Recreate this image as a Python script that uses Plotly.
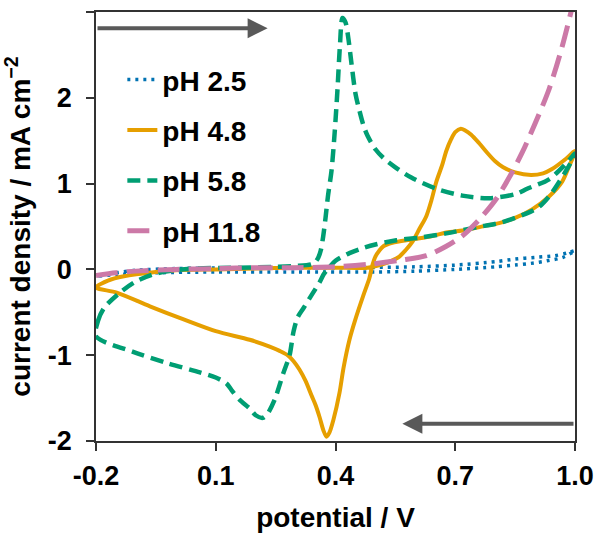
import plotly.graph_objects as go

# ---------------- data ----------------
# pH 2.5 (forward then backward scan)
ph25_x = [-0.2, -0.15, -0.1, 0.0, 0.2, 0.4, 0.6, 0.7, 0.8, 0.85, 0.9, 0.95, 0.98, 1.0,
          0.97, 0.93, 0.89, 0.85, 0.8, 0.7, 0.6, 0.5, 0.3, 0.1, -0.05, -0.15, -0.2]
ph25_y = [-0.08, -0.04, -0.01, 0.01, 0.02, 0.02, 0.03, 0.05, 0.09, 0.12, 0.14, 0.16, 0.19, 0.22,
          0.14, 0.10, 0.07, 0.05, 0.03, 0.0, -0.02, -0.03, -0.03, -0.03, -0.04, -0.06, -0.08]

# pH 4.8
ph48_x = [-0.2, -0.17, -0.13, -0.05, 0.0, 0.1, 0.2, 0.3, 0.4, 0.48, 0.5175, 0.54, 0.56, 0.575,
          0.5925, 0.61, 0.6275, 0.64, 0.6525, 0.6675, 0.6775, 0.69, 0.70, 0.714, 0.725, 0.74,
          0.76, 0.78, 0.80, 0.82, 0.85, 0.89, 0.92, 0.9425, 0.9775, 1.0,
          0.985, 0.9675, 0.935, 0.8925, 0.85, 0.81, 0.7775, 0.7275, 0.6775, 0.6425, 0.5925,
          0.5425, 0.52, 0.51, 0.50, 0.4925, 0.485, 0.47, 0.45, 0.435, 0.42, 0.41, 0.395, 0.385,
          0.3775, 0.37, 0.36, 0.35, 0.34, 0.325, 0.31, 0.295, 0.28, 0.26, 0.235, 0.185, 0.1, 0.018,
          -0.065, -0.148, -0.2]
ph48_y = [-0.21, -0.13, -0.08, -0.03, -0.01, 0.0, 0.01, 0.02, 0.02, 0.02, 0.06, 0.10, 0.15, 0.22,
          0.32, 0.47, 0.62, 0.80, 1.02, 1.22, 1.38, 1.52, 1.60, 1.64, 1.62, 1.57,
          1.47, 1.36, 1.26, 1.19, 1.13, 1.10, 1.12, 1.17, 1.29, 1.38,
          1.20, 1.02, 0.85, 0.70, 0.60, 0.54, 0.51, 0.46, 0.43, 0.39, 0.35,
          0.31, 0.27, 0.22, 0.15, 0.05, -0.10, -0.30, -0.58, -0.82, -1.15, -1.44, -1.75, -1.90,
          -1.95, -1.88, -1.72, -1.58, -1.47, -1.30, -1.17, -1.07, -1.00, -0.95, -0.90, -0.82,
          -0.72, -0.58, -0.43, -0.27, -0.21]

# pH 5.8
ph58_x = [-0.2, -0.195, -0.18, -0.14, -0.1, -0.05, 0.0, 0.05, 0.15, 0.25, 0.3, 0.34, 0.35, 0.357,
          0.363, 0.369, 0.375, 0.381, 0.39, 0.398, 0.405, 0.411, 0.4175, 0.425, 0.432, 0.44, 0.45,
          0.46, 0.47, 0.48, 0.50, 0.52, 0.55, 0.59, 0.6525, 0.7175, 0.785, 0.8525, 0.88, 0.935,
          0.975, 1.0,
          0.99, 0.975, 0.94, 0.91, 0.8775, 0.8175, 0.7525, 0.6775, 0.61, 0.5525, 0.5, 0.47, 0.435,
          0.40, 0.38, 0.37, 0.36, 0.34, 0.32, 0.305, 0.295, 0.285, 0.27, 0.2475, 0.23, 0.218, 0.2,
          0.185, 0.16, 0.14, 0.127, 0.1, 0.06, -0.023, -0.107, -0.2]
ph58_y = [-0.78, -0.60, -0.45, -0.27, -0.14, -0.05, -0.01, 0.01, 0.02, 0.03, 0.04, 0.06, 0.09, 0.14,
          0.22, 0.38, 0.60, 0.85, 1.15, 1.60, 2.10, 2.60, 2.93, 2.88, 2.70, 2.40, 2.05,
          1.85, 1.68, 1.56, 1.40, 1.30, 1.19, 1.07, 0.94, 0.86, 0.83, 0.88, 0.94, 1.05,
          1.22, 1.35,
          1.25, 1.13, 0.88, 0.73, 0.65, 0.55, 0.49, 0.42, 0.37, 0.34, 0.29, 0.25, 0.19,
          0.10, 0.0, -0.06, -0.15, -0.30, -0.45, -0.56, -0.72, -1.00, -1.20, -1.52, -1.68, -1.73, -1.70,
          -1.62, -1.52, -1.41, -1.33, -1.26, -1.20, -1.09, -0.96, -0.78]

# pH 11.8
ph118_x = [-0.2, -0.15, -0.1, 0.0, 0.1, 0.2, 0.3, 0.4, 0.485, 0.5675, 0.6275, 0.6775, 0.7175,
           0.76, 0.8025, 0.835, 0.8675, 0.9, 0.935, 0.965, 0.99, 1.0]
ph118_y = [-0.07, -0.04, -0.02, 0.0, 0.01, 0.02, 0.02, 0.03, 0.06, 0.11, 0.16, 0.27, 0.39,
           0.58, 0.82, 1.07, 1.36, 1.70, 2.10, 2.55, 3.00, 3.20]

series_names = ["pH 2.5", "pH 4.8", "pH 5.8", "pH 11.8"]

x_tickvals = [-0.2, 0.1, 0.4, 0.7, 1.0]
x_ticktext = ["-0.2", "0.1", "0.4", "0.7", "1.0"]
y_tickvals = [-2, -1, 0, 1, 2, 3]
y_ticktext = ["-2", "-1", "0", "1", "2", "3"]

# scan-direction arrows (annotation positions in data units)
fwd_arrow = dict(tail=(-0.2, 2.81), head=(0.23, 2.81))
bwd_arrow = dict(tail=(1.0, -1.80), head=(0.5675, -1.80))

# ---------------- styles ----------------
FONT = "Arial, 'Liberation Sans', Helvetica, sans-serif"
styles = [
    dict(color="#0072B2", width=3.5, dash="3px,5px"),
    dict(color="#E69F00", width=4, dash="solid"),
    dict(color="#009E73", width=4.5, dash="13px,7px"),
    dict(color="#CC79A7", width=5, dash="22px,9px"),
]

fig = go.Figure()
data = [(ph25_x, ph25_y), (ph48_x, ph48_y), (ph58_x, ph58_y), (ph118_x, ph118_y)]
for i, ((xs, ys), name, st) in enumerate(zip(data, series_names, styles)):
    fig.add_trace(go.Scatter(
        x=xs, y=ys, mode="lines", name=name, legendgroup=f"g{i}",
        line=dict(color=st["color"], width=st["width"], dash=st["dash"],
                  shape="spline", smoothing=0.8),
    ))

for arr in (fwd_arrow, bwd_arrow):
    fig.add_annotation(
        x=arr["head"][0], y=arr["head"][1], ax=arr["tail"][0], ay=arr["tail"][1],
        xref="x", yref="y", axref="x", ayref="y", text="", showarrow=True,
        arrowhead=2, arrowsize=1.0, arrowwidth=4, arrowcolor="#595959", standoff=0,
    )

axis_common = dict(
    showgrid=False, zeroline=False, showline=True, linecolor="#333333", linewidth=1.5,
    mirror=True, ticks="outside", ticklen=8, tickwidth=1.5, tickcolor="#333333",
    tickfont=dict(family=FONT, size=27, color="black", weight="bold"),
)

fig.update_xaxes(range=[-0.2, 1.0], tickvals=x_tickvals, ticktext=x_ticktext,
                 ticklabelstandoff=2,
                 title=dict(text="potential / V", standoff=17,
                            font=dict(family=FONT, size=28, color="black", weight="bold")),
                 **axis_common)
fig.update_yaxes(range=[-2, 3], tickvals=y_tickvals, ticktext=y_ticktext,
                 ticklabelstandoff=9,
                 title=dict(text="current density / mA cm<sup>\u22122</sup>", standoff=17,
                            font=dict(family=FONT, size=28, color="black", weight="bold")),
                 **axis_common)

fig.update_layout(
    width=595, height=537,
    margin=dict(l=96, r=20, t=12, b=96, autoexpand=False),
    plot_bgcolor="white", paper_bgcolor="white",
    showlegend=True,
    legend=dict(x=0.055, y=0.90, xanchor="left", yanchor="top",
                bgcolor="rgba(0,0,0,0)", tracegroupgap=11,
                font=dict(family=FONT, size=28, color="black", weight="bold")),
)

fig.write_html("out.html")
